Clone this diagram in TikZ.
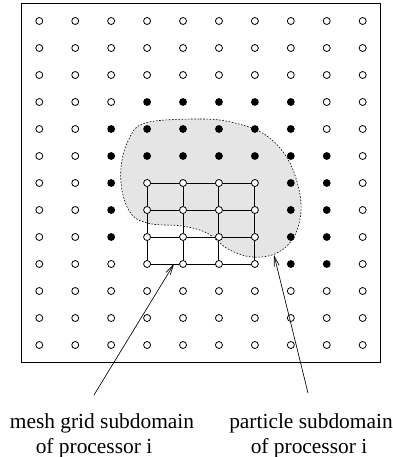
\documentclass[tikz,border=0pt]{standalone}
\usepackage{fontspec}
\setmainfont{Liberation Serif}
\usetikzlibrary{arrows.meta}
\begin{document}
\begin{tikzpicture}[x=1pt,y=-1pt,
  doto/.style={circle,draw=black,fill=white,line width=0.8pt,inner sep=0pt,minimum size=7pt},
  dotf/.style={circle,fill=black,inner sep=0pt,minimum size=7.8pt},
  meshline/.style={line width=1pt},
  pointer/.style={line width=0.65pt,-{Straight Barb[length=10pt,width=5pt,line width=0.65pt]}},
  caption/.style={font=\fontsize{21.4}{25}\selectfont,anchor=base,inner sep=0pt}]
\useasboundingbox (0,0) rectangle (392,457);

% particle subdomain (shaded blob with dashed outline)
\path[fill=black!10,draw=black,line width=0.6pt,dash pattern=on 1.6pt off 1.6pt]
  plot[smooth cycle,tension=0.6] coordinates {
    (145,123) (200,119) (235,123) (267,136) (290,163) (301,203)
    (295,235) (277,253) (252,257) (228,249) (207,233) (182,226)
    (152,224) (133,216) (123,195) (121,168) (128,141)};

% outer domain
\draw[line width=0.9pt] (21.5,3.5) rectangle (380.5,362.5);

% particles: o = empty, f = filled
\foreach \rowspec [count=\j from 0] in {
  {o,o,o,o,o,o,o,o,o,o},
  {o,o,o,o,o,o,o,o,o,o},
  {o,o,o,o,o,o,o,o,o,o},
  {o,o,o,f,f,f,f,f,o,o},
  {o,o,f,f,f,f,f,f,o,o},
  {o,o,f,f,f,f,f,f,f,o},
  {o,o,f,o,o,o,o,f,f,o},
  {o,o,f,o,o,o,o,f,f,o},
  {o,o,f,o,o,o,o,f,f,o},
  {o,o,o,o,o,o,o,f,f,o},
  {o,o,o,o,o,o,o,o,o,o},
  {o,o,o,o,o,o,o,o,o,o},
  {o,o,o,o,o,o,o,o,o,o}}
  \foreach \c [count=\i from 0] in \rowspec
    \node[dot\c] (p-\i-\j) at ({39.3+35.93*\i},{21+27*\j}) {};

% mesh grid of processor i
\foreach \j in {6,...,9}
  \draw[meshline] (p-3-\j) -- (p-4-\j) -- (p-5-\j) -- (p-6-\j);
\foreach \i in {3,...,6}
  \draw[meshline] (p-\i-6) -- (p-\i-7) -- (p-\i-8) -- (p-\i-9);

% captions
\node[caption] (mesh1) at (102,428) {mesh grid subdomain};
\node[caption] (mesh2) at (94,453) {of processor i};
\node[caption] (part1) at (311,428) {particle subdomain};
\node[caption] (part2) at (309,453) {of processor i};

% pointers
\coordinate (mtail) at (94,395);
\coordinate (mtip) at (174,264);
\coordinate (ptail) at (308,393);
\coordinate (ptip) at (274,255);
\draw[pointer] (mtail) -- (mtip);
\draw[pointer] (ptail) -- (ptip);
\end{tikzpicture}
\end{document}
